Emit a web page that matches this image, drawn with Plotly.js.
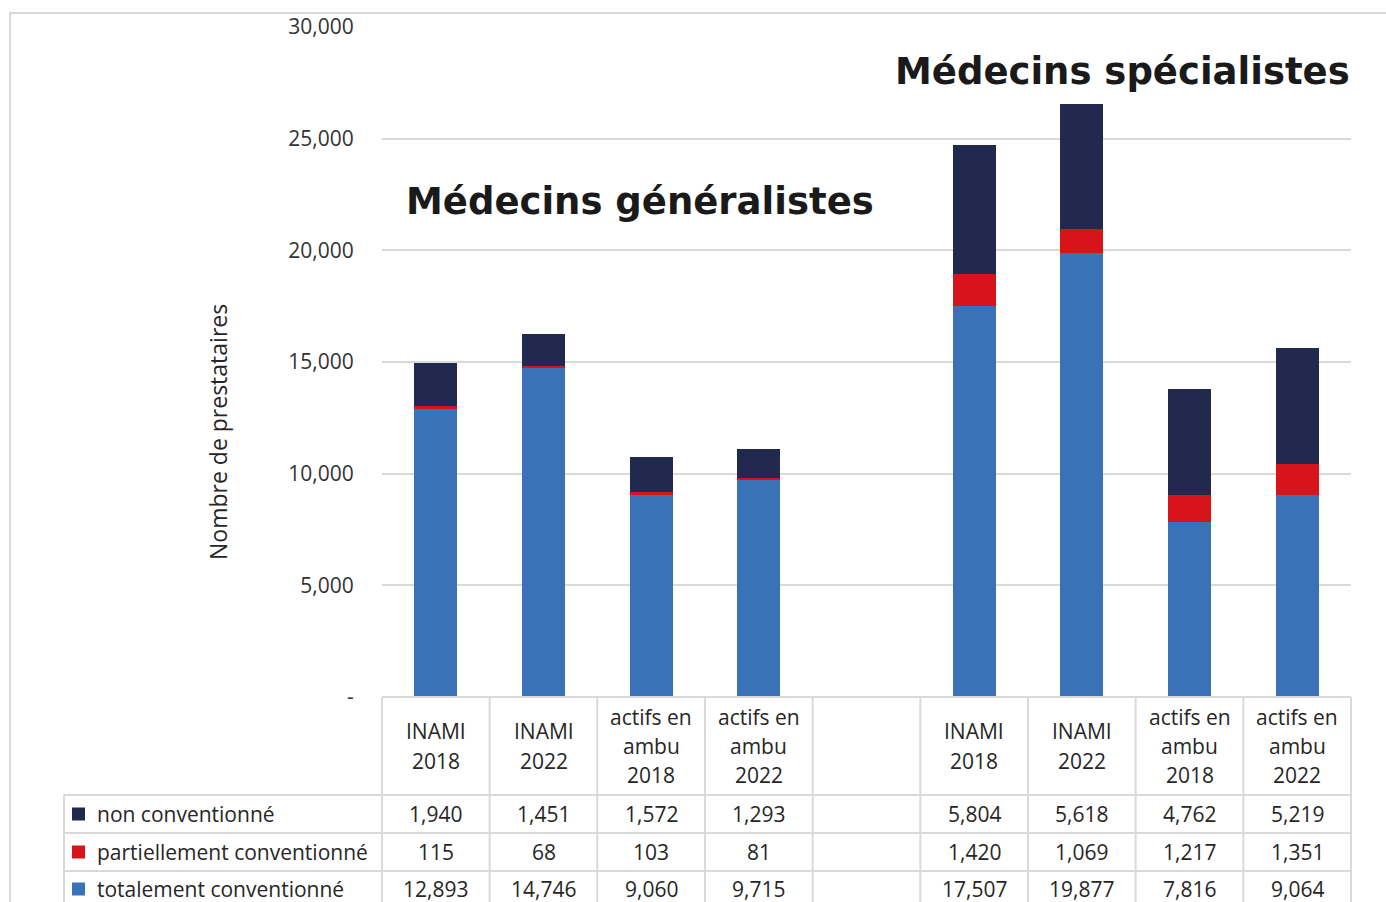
<!DOCTYPE html>
<html><head><meta charset="utf-8">
<script src="https://cdn.plot.ly/plotly-3.0.1.min.js"></script>
<style>html,body{margin:0;padding:0;background:#fff}</style>
</head><body><div id="chart" style="width:1386px;height:902px"></div>
<script>
// ---- data ----
const categoryLabels = ["INAMI<br>2018", "INAMI<br>2022", "actifs en<br>ambu<br>2018", "actifs en<br>ambu<br>2022"];
const groupNames = ["Médecins généralistes", "Médecins spécialistes"];
const seriesNames = ["non conventionné", "partiellement conventionné", "totalement conventionné"];
const genNon  = [1940, 1451, 1572, 1293];
const genPart = [115, 68, 103, 81];
const genTot  = [12893, 14746, 9060, 9715];
const specNon  = [5804, 5618, 4762, 5219];
const specPart = [1420, 1069, 1217, 1351];
const specTot  = [17507, 19877, 7816, 9064];
const yTickVals = [0, 5000, 10000, 15000, 20000, 25000, 30000];
const yTickText = ["-", "5,000", "10,000", "15,000", "20,000", "25,000", "30,000"];
const yTitle = "Nombre de prestataires";

// ---- styling ----
const colors = ["#212A4E", "#D7141A", "#3A72B8"];
const gridC = "#D9D9D9";
const txtC = "#262626";
const fontFam = "Open Sans, Noto Sans, sans-serif";

// slots: generalists 0..3, blank 4, specialists 5..8
const nSlots = 9;
const genX = categoryLabels.map((_, i) => i);
const specX = categoryLabels.map((_, i) => i + 5);
const allX = genX.concat(specX);
const seriesData = [genNon.concat(specNon), genPart.concat(specPart), genTot.concat(specTot)];

// stacking: bottom = totalement, then partiellement, then non
const traces = [2, 1, 0].map(k => ({
  type: "bar", name: seriesNames[k], x: allX, y: seriesData[k],
  width: 0.4, marker: {color: colors[k], line: {width: 0}},
  hoverinfo: "name+y"
}));

// pixel helpers (plot area: x 382..1351, y 27..697)
const L = 382, R = 1351, T = 27, B = 697;
const px = p => (p - L) / (R - L);
const py = p => (B - p) / (B - T);
const slotX = s => (s + 0.5) / nSlots;
const bndX = b => b / nSlots;

const shapes = [];
const line = (x0, y0, x1, y1) => shapes.push({type: "line", xref: "paper", yref: "paper",
  x0, y0, x1, y1, line: {color: gridC, width: 2}, layer: "above"});

// outer frame
shapes.push({type: "rect", xref: "paper", yref: "paper", x0: px(10), x1: px(1400), y0: py(13), y1: py(920),
  line: {color: gridC, width: 2}, fillcolor: "rgba(0,0,0,0)", layer: "below"});
// table horizontal lines
line(0, py(B), 1, py(B));
[795, 833, 871].forEach(yy => line(px(64), py(yy), 1, py(yy)));
// vertical lines
for (let b = 0; b <= nSlots; b++) line(bndX(b), py(B), bndX(b), py(920));
line(px(64), py(795), px(64), py(920));

const annotations = [];
const ann = (x, y, text, opts) => annotations.push(Object.assign({xref: "paper", yref: "paper", x, y, text,
  showarrow: false, font: {family: fontFam, size: 21, color: txtC}, xanchor: "center", yanchor: "middle"}, opts || {}));

// header labels
const headerSlots = [genX, specX];
headerSlots.forEach(slots => slots.forEach((s, i) => {
  const lines = categoryLabels[i].split("<br>");
  lines.forEach((ln, j) => ann(slotX(s), py(746 + (j - (lines.length - 1) / 2) * 29), ln));
}));

// value rows
const rowY = [814, 852, 889];
const fmt = v => v.toLocaleString("en-US");
seriesData.forEach((vals, k) => {
  vals.forEach((v, i) => ann(slotX(allX[i]), py(rowY[k]), fmt(v)));
  // legend key
  shapes.push({type: "rect", xref: "paper", yref: "paper", x0: px(72), x1: px(85),
    y0: py(rowY[k] - 6.5), y1: py(rowY[k] + 6.5), fillcolor: colors[k], line: {width: 0}});
  ann(px(95), py(rowY[k]), seriesNames[k], {xanchor: "left"});
});

// group titles
const titleFont = {family: "DejaVu Sans", size: 37, color: "#1A1A1A", weight: "bold"};
ann(px(640), py(202), groupNames[0], {font: titleFont});
ann(px(1122), py(72), groupNames[1], {font: titleFont});

// y title
ann(px(218), py(432), yTitle, {textangle: -90, font: {family: fontFam, size: 23, color: txtC}});

const layout = {
  width: 1386, height: 902,
  margin: {l: L, r: 1386 - R, t: T, b: 902 - B, pad: 0},
  paper_bgcolor: "#fff", plot_bgcolor: "#fff",
  barmode: "stack", showlegend: false,
  xaxis: {range: [-0.5, 8.5], showticklabels: false, showgrid: false, zeroline: false, showline: false, fixedrange: true},
  yaxis: {range: [0, 30000], tickvals: yTickVals, ticktext: yTickText, showgrid: true, gridcolor: gridC, gridwidth: 2,
    zeroline: false, showline: false, ticks: "outside", ticklen: 23, tickcolor: "rgba(0,0,0,0)",
    tickfont: {family: fontFam, size: 21, color: "#333"}, fixedrange: true},
  shapes, annotations
};
Plotly.newPlot("chart", traces, layout, {displayModeBar: false, staticPlot: true});
</script></body></html>
